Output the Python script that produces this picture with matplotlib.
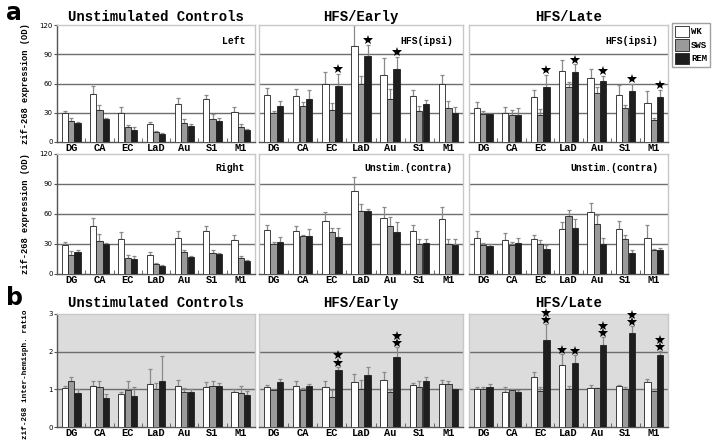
import matplotlib
matplotlib.use("Agg")
import matplotlib.pyplot as plt
import numpy as np
from matplotlib.patches import Patch

regions = ["DG", "CA", "EC", "LaD", "Au", "S1", "M1"]
series = ["WK", "SWS", "REM"]

# Row 1 (Left / HFS ipsi): values and error sizes
unstim_left = {"WK": [30, 49, 30, 18, 39, 44, 31], "SWS": [22, 33, 15, 10, 20, 23.5, 15], "REM": [19, 23.5, 12, 8, 16, 22, 12]}
unstim_left_err = {"WK": [2, 8, 6, 3, 6, 4, 5], "SWS": [3, 5, 2.5, 1, 4, 5.5, 3.5], "REM": [1.5, 1, 3, 1, 2, 2.5, 1]}
early_ipsi = {"WK": [48, 47, 59, 98, 69, 47, 59], "SWS": [30, 36.5, 33, 60, 44, 32, 35], "REM": [37, 44, 57, 88, 75, 39, 30]}
early_ipsi_err = {"WK": [7, 7, 13, 22, 17, 6, 10], "SWS": [2, 4.5, 7.5, 8, 10, 4.5, 7], "REM": [5, 9.5, 13, 12, 12, 4.5, 6]}
early_ipsi_star = {"REM": [0, 0, 1, 1, 1, 0, 0]}
late_ipsi = {"WK": [35, 30, 46, 72.5, 65.5, 48, 40], "SWS": [29, 28, 27.5, 56, 50, 34.5, 23], "REM": [29, 28, 56.5, 71.5, 62.5, 52.5, 46.5]}
late_ipsi_err = {"WK": [6.5, 6, 7.5, 12, 9, 10, 12.5], "SWS": [2.5, 5, 6.5, 6, 6, 3.5, 2], "REM": [0, 6.5, 12, 8, 5, 7.5, 7]}
late_ipsi_star = {"REM": [0, 0, 1, 1, 1, 1, 1]}

# Row 2 (Right / contra)
unstim_right = {"WK": [29, 48, 35, 19, 36.5, 43.5, 34], "SWS": [19, 33, 16, 10, 22, 21.5, 16.5], "REM": [22, 30, 15.5, 8, 17.5, 20.5, 13.5]}
unstim_right_err = {"WK": [3, 8, 7, 3, 7, 5, 5.5], "SWS": [4.5, 7, 3.5, 0.7, 2.5, 2.5, 1.5], "REM": [2.5, 1.2, 2.5, 0.7, 0.6, 1, 1]}
early_contra = {"WK": [44, 43, 53.5, 83.5, 56, 43, 55], "SWS": [30.5, 38.5, 42, 63, 48, 30, 30], "REM": [32, 38.5, 37.5, 63, 42.5, 31.5, 29.5]}
early_contra_err = {"WK": [5, 5.5, 8.5, 13, 11, 6, 12], "SWS": [1.3, 0.5, 4, 7, 9.5, 5, 5], "REM": [5, 7, 8.5, 2.5, 9.5, 3.5, 5.5]}
late_contra = {"WK": [36, 34, 35, 45, 62, 45, 36], "SWS": [29.5, 29, 30, 58, 50.5, 35, 24.5], "REM": [28, 31.5, 25, 46.5, 30.5, 21, 24.5]}
late_contra_err = {"WK": [7.5, 7, 4.5, 7.5, 9, 8, 13.5], "SWS": [2, 3, 4.5, 6.5, 8.5, 4, 0.5], "REM": [2.5, 5, 4, 9, 5.5, 2.7, 1.7]}

# Row b (inter-hemispheric ratio)
ratio_unstim = {"WK": [1.04, 1.08, 0.87, 1.14, 1.10, 1.05, 0.93], "SWS": [1.21, 1.07, 0.97, 1.00, 0.92, 1.10, 0.89], "REM": [0.89, 0.78, 0.83, 1.22, 0.92, 1.09, 0.86]}
ratio_unstim_err = {"WK": [0.06, 0.15, 0.07, 0.41, 0.16, 0.14, 0.09], "SWS": [0.13, 0.14, 0.24, 0.18, 0.12, 0.13, 0.19], "REM": [0.11, 0.09, 0.24, 0.66, 0.09, 0.09, 0.09]}
ratio_early = {"WK": [1.07, 1.10, 1.07, 1.19, 1.26, 1.12, 1.13], "SWS": [0.98, 0.98, 0.80, 1.02, 0.92, 1.07, 1.15], "REM": [1.19, 1.10, 1.51, 1.38, 1.85, 1.23, 1.01]}
ratio_early_err = {"WK": [0.05, 0.11, 0.15, 0.23, 0.21, 0.06, 0.13], "SWS": [0, 0.05, 0.18, 0.22, 0.07, 0.14, 0.06], "REM": [0.09, 0.05, 0.09, 0.21, 0.27, 0.10, 0]}
ratio_early_star = {"REM": [0, 0, 2, 0, 2, 0, 0]}
ratio_late = {"WK": [1.00, 0.94, 1.34, 1.65, 1.04, 1.09, 1.20], "SWS": [1.00, 0.99, 0.95, 1.01, 1.04, 1.01, 0.95], "REM": [1.06, 0.92, 2.32, 1.69, 2.17, 2.50, 1.90]}
ratio_late_err = {"WK": [0.07, 0.13, 0.13, 0.28, 0.08, 0.02, 0.08], "SWS": [0.07, 0.03, 0.12, 0.09, 0, 0.06, 0.05], "REM": [0.09, 0.05, 0.41, 0.21, 0.21, 0.18, 0.12]}
ratio_late_star = {"WK": [0, 0, 0, 1, 0, 0, 0], "REM": [0, 0, 2, 1, 2, 2, 2]}

col_titles = ["Unstimulated Controls", "HFS/Early", "HFS/Late"]
row1_labels = ["Left", "HFS(ipsi)", "HFS(ipsi)"]
row2_labels = ["Right", "Unstim.(contra)", "Unstim.(contra)"]
ylabel_a = "zif-268 expression (OD)"
ylabel_b = "zif-268 inter-hemisph. ratio"

colors = {"WK": "#ffffff", "SWS": "#9a9a9a", "REM": "#1e1e1e"}
MONO = "Liberation Mono"

W, H = 720, 441
fig = plt.figure(figsize=(W / 100, H / 100), dpi=100)

cols_px = [(57, 255), (259, 463), (469, 668)]
rows_px = [(25, 142), (154, 274), (314, 427)]


def add_ax(col, row):
    x0, x1 = cols_px[col]
    y0, y1 = rows_px[row]
    return fig.add_axes([x0 / W, 1 - y1 / H, (x1 - x0) / W, (y1 - y0) / H])


def draw(ax, vals, errs, stars, ymax, grid, yticks, show_yt, bg, star_off):
    n = len(regions)
    x = np.arange(n)
    bw = 0.22
    offs = [-bw - 0.005, 0, bw + 0.005]
    ax.set_facecolor(bg)
    for g in grid:
        ax.axhline(g, color="#6e6e6e", lw=1.0, zorder=1)
    for s, off in zip(series, offs):
        v = np.array(vals[s])
        e = np.array(errs[s])
        ax.bar(x + off, v, bw, color=colors[s], edgecolor="#222222", lw=0.6, zorder=3)
        ax.errorbar(x + off, v, yerr=[np.zeros(n), e], fmt="none", ecolor="#8a8a8a",
                    elinewidth=0.9, capsize=1.5, capthick=0.9, zorder=2)
        st = stars.get(s)
        if st:
            for i, k in enumerate(st):
                for j in range(k):
                    ax.plot(x[i] + off, v[i] + e[i] + star_off[0] + j * star_off[1],
                            marker="*", ms=7, mfc="black", mec="black", mew=0,
                            ls="none", zorder=5, clip_on=False)
    ax.set_xlim(-0.5, n - 0.5)
    ax.set_ylim(0, ymax)
    ax.set_xticks(x)
    ax.set_xticklabels(regions, family=MONO, fontsize=7.5, fontweight="bold")
    ax.set_xticks(np.arange(n + 1) - 0.5, minor=True)
    ax.tick_params(axis="x", which="major", length=0, pad=1)
    ax.tick_params(axis="x", which="minor", length=3, color="#555555", direction="in")
    ax.set_yticks(yticks)
    if show_yt:
        ax.set_yticklabels([str(t) for t in yticks], family="DejaVu Sans", fontsize=5)
        ax.tick_params(axis="y", length=2, pad=1, color="#555555")
    else:
        ax.set_yticklabels([])
        ax.tick_params(axis="y", length=0)
    for sp in ["top", "right", "left"]:
        ax.spines[sp].set_color("#c8c8c8")
        ax.spines[sp].set_linewidth(1.0)
    ax.spines["bottom"].set_color("#555555")
    ax.spines["bottom"].set_linewidth(1.0)
    if show_yt:
        ax.spines["left"].set_color("#555555")


rowa1 = [(unstim_left, unstim_left_err, {}), (early_ipsi, early_ipsi_err, early_ipsi_star), (late_ipsi, late_ipsi_err, late_ipsi_star)]
rowa2 = [(unstim_right, unstim_right_err, {}), (early_contra, early_contra_err, {}), (late_contra, late_contra_err, {})]
rowb = [(ratio_unstim, ratio_unstim_err, {}), (ratio_early, ratio_early_err, ratio_early_star), (ratio_late, ratio_late_err, ratio_late_star)]

for c in range(3):
    ax = add_ax(c, 0)
    v, e, s = rowa1[c]
    draw(ax, v, e, s, 120, [30, 60, 90], [0, 30, 60, 90, 120], c == 0, "white", (5, 7))
    ax.text(0.95, 0.86, row1_labels[c], transform=ax.transAxes, ha="right", va="center",
            family=MONO, fontsize=7, fontweight="bold")
    ax.set_title(col_titles[c], family=MONO, fontsize=10, fontweight="bold", pad=3)

    ax = add_ax(c, 1)
    v, e, s = rowa2[c]
    draw(ax, v, e, s, 120, [30, 60, 90], [0, 30, 60, 90, 120], c == 0, "white", (5, 7))
    ax.text(0.95, 0.88, row2_labels[c], transform=ax.transAxes, ha="right", va="center",
            family=MONO, fontsize=7, fontweight="bold")

    ax = add_ax(c, 2)
    v, e, s = rowb[c]
    draw(ax, v, e, s, 3, [1, 2], [0, 1, 2, 3], c == 0, "#dcdcdc", (0.11, 0.19))
    ax.set_title(col_titles[c], family=MONO, fontsize=10, fontweight="bold", pad=5)

# Y labels
for yc in [84, 214]:
    fig.text(26 / W, 1 - yc / H, ylabel_a, rotation=90, ha="center",
             va="center", family=MONO, fontsize=6.3, fontweight="bold")
fig.text(26 / W, 1 - 374 / H, ylabel_b, rotation=90, ha="center",
         va="center", family=MONO, fontsize=5.5, fontweight="bold")

# Panel letters
fig.text(6 / W, 1 - 13 / H, "a", fontsize=17, fontweight="bold", family="DejaVu Sans", va="center")
fig.text(6 / W, 1 - 298 / H, "b", fontsize=17, fontweight="bold", family="DejaVu Sans", va="center")

# Legend
handles = [Patch(facecolor=colors[s], edgecolor="#222222", lw=0.6, label=s) for s in series]
leg = fig.legend(handles=handles, loc="upper left", bbox_to_anchor=(672 / W, 1 - 23 / H),
                 prop={"family": MONO, "size": 6.5, "weight": "bold"}, frameon=True,
                 fancybox=False, edgecolor="#888888", handlelength=1.6, handleheight=1.6,
                 handletextpad=0.2, borderpad=0.3, labelspacing=0.2, borderaxespad=0)

fig.savefig("out.png", dpi=100)
